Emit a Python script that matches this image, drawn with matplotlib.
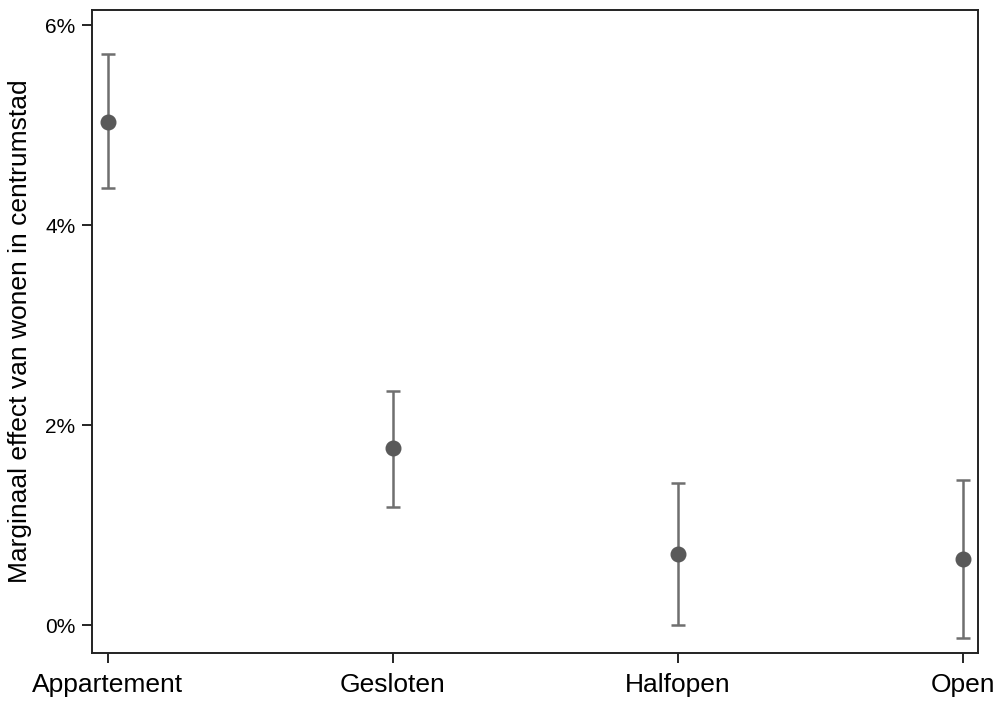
import matplotlib
matplotlib.use("Agg")
import matplotlib.pyplot as plt
from matplotlib.ticker import FuncFormatter

plt.rcParams["font.family"] = ["Liberation Sans", "DejaVu Sans"]

# marginal effects (in %) with confidence bounds
categories = ["Appartement", "Gesloten", "Halfopen", "Open"]
effect = [5.03, 1.77, 0.71, 0.66]
ci_upper = [5.71, 2.34, 1.42, 1.45]
ci_lower = [4.37, 1.18, 0.00, -0.13]
y_ticks = [0, 2, 4, 6]

x = list(range(len(categories)))
err_low = [e - lo for e, lo in zip(effect, ci_lower)]
err_high = [hi - e for e, hi in zip(effect, ci_upper)]

fig = plt.figure(figsize=(10, 7.02), dpi=100)
ax = fig.add_axes([0.092, 0.0705, 0.886, 0.915])

ax.errorbar(
    x, effect, yerr=[err_low, err_high],
    fmt="none", ecolor="#6f6f6f", elinewidth=1.8, capsize=4.7, capthick=1.8,
)
ax.plot(x, effect, "o", color="#595959", markersize=10.5, zorder=3)

ax.set_xlim(-0.055, 3.053)
ax.set_ylim(-0.275, 6.15)
ax.set_xticks(x)
ax.set_xticklabels(categories, fontsize=19)
ax.set_yticks(y_ticks)
ax.yaxis.set_major_formatter(FuncFormatter(lambda v, _: f"{v:.0f}%"))
ax.tick_params(axis="y", labelsize=15, length=7, width=1.2, pad=5)
ax.tick_params(axis="x", length=7, width=1.2, pad=8)
ax.set_ylabel("Marginaal effect van wonen in centrumstad", fontsize=19, labelpad=9)

for sp in ax.spines.values():
    sp.set_linewidth(1.4)
    sp.set_color("#222222")

fig.savefig("out.png", dpi=100)
